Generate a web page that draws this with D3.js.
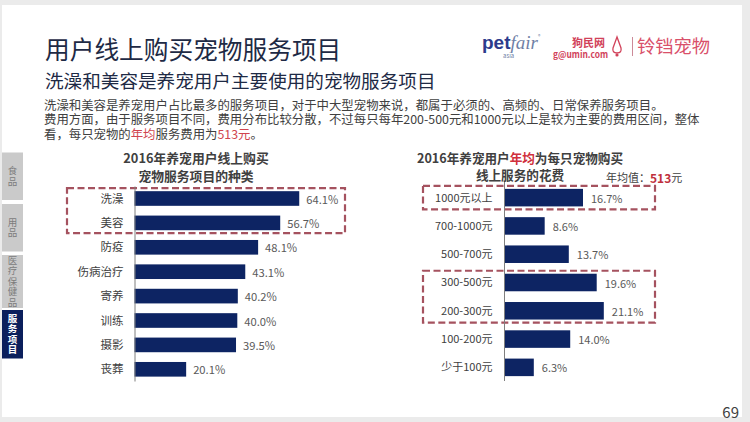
<!DOCTYPE html>
<html>
<head>
<meta charset="utf-8">
<script src="https://cdn.jsdelivr.net/npm/d3@7"></script>
<style>
  html, body { margin: 0; padding: 0; background: #ebebeb; }
  svg { display: block; }
  text { font-family: "Noto Sans CJK SC", "Noto Sans", sans-serif; }
</style>
</head>
<body>
<svg id="chart" width="750" height="422"></svg>
<script>
// ---------- data ----------
const titleText = "用户线上购买宠物服务项目";
const subtitleText = "洗澡和美容是养宠用户主要使用的宠物服务项目";
const bodyLines = [
  [["洗澡和美容是养宠用户占比最多的服务项目，对于中大型宠物来说，都属于必须的、高频的、日常保养服务项目。", false]],
  [["费用方面，由于服务项目不同，费用分布比较分散，不过每只每年200-500元和1000元以上是较为主要的费用区间，整体", false]],
  [["看，每只宠物的", false], ["年均", true], ["服务费用为", false], ["513元", true], ["。", false]]
];
const sideTabs = ["食品", "用品", "医疗保健品", "服务项目"];

const leftTitle = ["2016年养宠用户线上购买", "宠物服务项目的种类"];
const leftCats = ["洗澡", "美容", "防疫", "伤病治疗", "寄养", "训练", "摄影", "丧葬"];
const leftVals = [64.1, 56.7, 48.1, 43.1, 40.2, 40.0, 39.5, 20.1];
const leftHighlight = [["洗澡", "美容"]];

const rightTitle1 = [["2016年养宠用户", false], ["年均", true], ["为每只宠物购买", false]];
const rightTitle2 = "线上服务的花费";
const rightCats = ["1000元以上", "700-1000元", "500-700元", "300-500元", "200-300元", "100-200元", "少于100元"];
const rightVals = [16.7, 8.6, 13.7, 19.6, 21.1, 14.0, 6.3];
const rightHighlight = [["1000元以上", "1000元以上"], ["300-500元", "200-300元"]];
const avgLabel = "年均值：";
const avgValue = "513";
const avgUnit = "元";
const pageNumber = "69";

// ---------- colours ----------
const NAVY = "#0d2463";
const BOX = "#a5525f";
const TXT = "#404040";

const svg = d3.select("#chart");

// slide background
svg.append("rect").attr("x", 0).attr("y", 0).attr("width", 750).attr("height", 422).attr("fill", "#ebebeb");
svg.append("rect").attr("x", 2).attr("y", 5).attr("width", 740).attr("height", 412).attr("fill", "#ffffff");

// titles
svg.append("text").attr("x", 45).attr("y", 48).attr("dominant-baseline", "central")
  .attr("font-size", 24.7).attr("fill", "#1e2a45").text(titleText);
svg.append("text").attr("x", 45).attr("y", 79.5).attr("dominant-baseline", "central")
  .attr("font-size", 18.6).attr("fill", "#1e2a45").text(subtitleText);

// body text (one text block, one line per tspan group)
const bodyY = [104.8, 119.2, 133.6];
const body = svg.append("text").attr("dominant-baseline", "central").attr("font-size", 12.4).attr("fill", TXT);
bodyLines.forEach((parts, i) => {
  parts.forEach(([s, red], k) => {
    const ts = body.append("tspan").attr("fill", red ? "#d0454f" : TXT).text(s);
    if (k === 0) ts.attr("x", 44).attr("y", bodyY[i]);
  });
});

// logos
const logo = svg.append("g");
const pf = logo.append("text").attr("x", 482).attr("y", 49).attr("font-size", 19);
pf.append("tspan").attr("font-weight", "bold").attr("fill", "#2c3b8c").attr("font-family", "Liberation Sans, Arial").text("pet");
pf.append("tspan").attr("font-style", "italic").attr("fill", "#6f7fa6").attr("font-family", "Liberation Serif, serif").text("fair");
logo.append("text").attr("x", 538).attr("y", 38).attr("font-size", 5).attr("fill", "#6f7fa6").text("®");
logo.append("text").attr("x", 503).attr("y", 58).attr("font-size", 6).attr("fill", "#6f7fa6").attr("font-family", "Liberation Sans, Arial").text("asia");
logo.append("text").attr("x", 572).attr("y", 47).attr("font-size", 11).attr("font-weight", "bold").attr("fill", "#d1425a").text("狗民网");
logo.append("text").attr("x", 553).attr("y", 57.5).attr("font-size", 9).attr("font-weight", "bold").attr("fill", "#d1425a")
  .attr("font-family", "DejaVu Sans Mono, monospace").attr("textLength", 55).attr("lengthAdjust", "spacingAndGlyphs").text("g@umin.com");
logo.append("path").attr("d", "M617,37 L613,48 Q612,53 617,53 Q622,53 621,48 Z").attr("fill", "none").attr("stroke", "#d1425a").attr("stroke-width", 1.3);
logo.append("circle").attr("cx", 617).attr("cy", 55).attr("r", 1.6).attr("fill", "#d1425a");
logo.append("line").attr("x1", 632.5).attr("x2", 632.5).attr("y1", 37).attr("y2", 56).attr("stroke", "#cc8a98").attr("stroke-width", 1);
logo.append("text").attr("x", 637).attr("y", 45).attr("dominant-baseline", "central").attr("font-size", 18.3).attr("fill", "#d9506a").text("铃铛宠物");

// side tabs (vertical text)
const tabY = [[152.5, 200], [204, 251.5], [255, 308], [310, 358.5]];
sideTabs.forEach((name, i) => {
  const active = i === sideTabs.length - 1;
  const [y0, y1] = tabY[i];
  svg.append("rect").attr("x", 2).attr("y", y0).attr("width", 21).attr("height", y1 - y0)
    .attr("fill", active ? "#0b1f5c" : "#cacaca");
  svg.append("text").attr("x", 12.5).attr("y", (y0 + y1) / 2)
    .attr("text-anchor", "middle")
    .style("writing-mode", "vertical-rl").style("text-orientation", "upright")
    .style("letter-spacing", "1px")
    .attr("font-size", 9.5).attr("font-weight", active ? "bold" : "normal")
    .attr("fill", active ? "#ffffff" : "#7c7c7c").text(name);
});

// ---------- chart helper ----------
function barChart(opt) {
  const g = svg.append("g");
  const y = d3.scaleBand().domain(opt.cats).range(opt.yRange).paddingInner(opt.pad).paddingOuter(opt.pad / 2);
  const x = d3.scaleLinear().domain([0, 100]).range([opt.x0, opt.x0 + opt.pxPerPct * 100]);

  opt.highlight.forEach(([a, b]) => {
    g.append("rect").attr("x", opt.boxX[0]).attr("width", opt.boxX[1] - opt.boxX[0])
      .attr("y", y(a) - opt.boxPad).attr("height", y(b) + y.bandwidth() - y(a) + 2 * opt.boxPad)
      .attr("fill", "none").attr("stroke", BOX).attr("stroke-width", 2.2).attr("stroke-dasharray", "7,3.5");
  });

  g.selectAll(".bar").data(opt.vals).join("rect")
    .attr("x", x(0)).attr("y", (d, i) => y(opt.cats[i]))
    .attr("width", d => x(d) - x(0)).attr("height", y.bandwidth()).attr("fill", NAVY);

  const ax = g.append("g").attr("transform", `translate(${x(0)},0)`)
    .call(d3.axisLeft(y).tickSize(0).tickPadding(opt.labelPad));
  ax.select(".domain").attr("stroke", "#7f7f7f").attr("stroke-width", 1).attr("d", `M0.5,${opt.axisY[0]}V${opt.axisY[1]}`);
  ax.selectAll("text").attr("font-size", opt.catFont).attr("fill", TXT)
    .attr("font-family", '"Noto Sans CJK SC", "Noto Sans", sans-serif').attr("dy", "0.35em");

  g.selectAll(".val").data(opt.vals).join("text")
    .attr("x", d => x(d) + opt.valPad).attr("y", (d, i) => y(opt.cats[i]) + y.bandwidth() / 2)
    .attr("dominant-baseline", "central").attr("font-size", opt.valFont).attr("fill", "#595959")
    .text(d => d3.format(".1f")(d) + "%");
  return { x, y };
}

// left chart
leftTitle.forEach((s, i) => {
  svg.append("text").attr("x", 196).attr("y", [157, 175][i]).attr("text-anchor", "middle").attr("dominant-baseline", "central")
    .attr("font-size", 12.8).attr("font-weight", "bold").attr("fill", TXT).text(s);
});
barChart({
  cats: leftCats, vals: leftVals, yRange: [186.3, 381.5], pad: 0.4,
  x0: 134.5, pxPerPct: 2.57, highlight: leftHighlight, boxX: [67, 345], boxPad: 3,
  axisY: [186.5, 381.5], labelPad: 11, catFont: 11.5, valFont: 11.2, valPad: 7
});

// right chart
const rt = svg.append("text").attr("x", 520).attr("y", 157).attr("text-anchor", "middle").attr("dominant-baseline", "central")
  .attr("font-size", 12.6).attr("font-weight", "bold").attr("fill", TXT);
rightTitle1.forEach(([s, red]) => rt.append("tspan").attr("fill", red ? "#d0303c" : TXT).text(s));
svg.append("text").attr("x", 520).attr("y", 174.5).attr("text-anchor", "middle").attr("dominant-baseline", "central")
  .attr("font-size", 12.6).attr("font-weight", "bold").attr("fill", TXT).text(rightTitle2);
const av = svg.append("text").attr("x", 606).attr("y", 177).attr("dominant-baseline", "central").attr("font-size", 11).attr("fill", TXT);
av.append("tspan").text(avgLabel);
av.append("tspan").attr("fill", "#c0303c").attr("font-weight", "bold").attr("font-size", 12).text(avgValue);
av.append("tspan").text(avgUnit);

barChart({
  cats: rightCats, vals: rightVals, yRange: [183.5, 381.5], pad: 0.38,
  x0: 504, pxPerPct: 4.73, highlight: rightHighlight, boxX: [423, 655], boxPad: 3,
  axisY: [182, 381], labelPad: 11.5, catFont: 11, valFont: 11, valPad: 8
});

// page number
svg.append("text").attr("x", 739).attr("y", 418).attr("text-anchor", "end").attr("font-size", 15).attr("fill", "#404040")
  .attr("font-family", "Liberation Sans, Arial, sans-serif").text(pageNumber);
</script>
</body>
</html>
